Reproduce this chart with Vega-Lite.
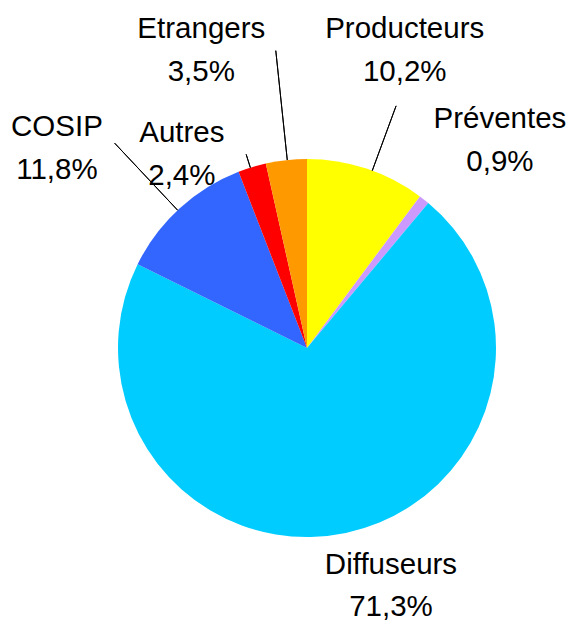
{
  "$schema": "https://vega.github.io/schema/vega-lite/v6.json",
  "width": 378,
  "height": 378,
  "autosize": {"type": "none"},
  "padding": {"left": 118, "top": 159, "right": 76, "bottom": 85},
  "background": "white",
  "config": {"view": {"stroke": null}},
  "data": {
    "values": [
      {"idx": 1, "label": "Producteurs", "value": 10.2, "txt": "Producteurs\n10,2%"},
      {"idx": 2, "label": "Préventes", "value": 0.9, "txt": "Préventes\n0,9%"},
      {"idx": 3, "label": "Diffuseurs", "value": 71.3, "txt": "Diffuseurs\n71,3%"},
      {"idx": 4, "label": "COSIP", "value": 11.8, "txt": "COSIP\n11,8%"},
      {"idx": 5, "label": "Autres", "value": 2.4, "txt": "Autres\n2,4%"},
      {"idx": 6, "label": "Etrangers", "value": 3.5, "txt": "Etrangers\n3,5%"}
    ]
  },
  "encoding": {
    "theta": {"field": "value", "type": "quantitative", "stack": "zero", "scale": {"domain": [0, 100.1]}},
    "order": {"field": "idx", "type": "quantitative"}
  },
  "layer": [
    {
      "mark": {"type": "arc", "radius": 189},
      "encoding": {
        "color": {
          "field": "label",
          "type": "nominal",
          "scale": {
            "domain": ["Producteurs", "Préventes", "Diffuseurs", "COSIP", "Autres", "Etrangers"],
            "range": ["#FFFF00", "#CC99FF", "#00CCFF", "#3366FF", "#FF0000", "#FF9900"]
          },
          "legend": null
        }
      }
    },
    {
      "transform": [
        {"stack": "value", "groupby": [], "sort": [{"field": "idx", "order": "ascending"}], "as": ["v0", "v1"]},
        {"filter": "datum.label === 'Producteurs'"}
      ],
      "mark": {"type": "arc", "radius": 258, "radius2": 189, "thetaOffset": 0.3526, "theta2Offset": 0.3526, "fillOpacity": 0, "stroke": "black", "strokeWidth": 1},
      "encoding": {
        "theta": {"field": "v0", "type": "quantitative", "stack": null, "scale": {"domain": [0, 100.1]}},
        "theta2": {"field": "v0"}
      }
    },
    {
      "transform": [
        {"stack": "value", "groupby": [], "sort": [{"field": "idx", "order": "ascending"}], "as": ["v0", "v1"]},
        {"filter": "datum.label === 'COSIP'"}
      ],
      "mark": {"type": "arc", "radius": 281, "radius2": 189, "thetaOffset": 0.3571, "theta2Offset": 0.3571, "fillOpacity": 0, "stroke": "black", "strokeWidth": 1},
      "encoding": {
        "theta": {"field": "v0", "type": "quantitative", "stack": null, "scale": {"domain": [0, 100.1]}},
        "theta2": {"field": "v0"}
      }
    },
    {
      "transform": [
        {"stack": "value", "groupby": [], "sort": [{"field": "idx", "order": "ascending"}], "as": ["v0", "v1"]},
        {"filter": "datum.label === 'Autres'"}
      ],
      "mark": {"type": "arc", "radius": 203, "radius2": 189, "thetaOffset": 0.066, "theta2Offset": 0.066, "fillOpacity": 0, "stroke": "black", "strokeWidth": 1},
      "encoding": {
        "theta": {"field": "v0", "type": "quantitative", "stack": null, "scale": {"domain": [0, 100.1]}},
        "theta2": {"field": "v0"}
      }
    },
    {
      "transform": [
        {"stack": "value", "groupby": [], "sort": [{"field": "idx", "order": "ascending"}], "as": ["v0", "v1"]},
        {"filter": "datum.label === 'Etrangers'"}
      ],
      "mark": {"type": "arc", "radius": 299, "radius2": 189, "thetaOffset": 0.1151, "theta2Offset": 0.1151, "fillOpacity": 0, "stroke": "black", "strokeWidth": 1},
      "encoding": {
        "theta": {"field": "v0", "type": "quantitative", "stack": null, "scale": {"domain": [0, 100.1]}},
        "theta2": {"field": "v0"}
      }
    },
    {
      "mark": {"type": "text", "radius": 313.7, "dx": -1, "dy": -21, "font": "Liberation Sans", "fontSize": 29.5, "lineHeight": 43, "lineBreak": "\n", "align": "center", "baseline": "middle", "color": "black"},
      "encoding": {
        "detail": {"field": "label", "type": "nominal"},
        "text": {"condition": {"test": "datum.label === 'Producteurs'", "field": "txt", "type": "nominal"}, "value": ""}
      }
    },
    {
      "mark": {"type": "text", "radius": 283.8, "dx": 17, "dy": -6, "font": "Liberation Sans", "fontSize": 29.5, "lineHeight": 43, "lineBreak": "\n", "align": "center", "baseline": "middle", "color": "black"},
      "encoding": {
        "detail": {"field": "label", "type": "nominal"},
        "text": {"condition": {"test": "datum.label === 'Préventes'", "field": "txt", "type": "nominal"}, "value": ""}
      }
    },
    {
      "mark": {"type": "text", "radius": 255.2, "dx": 31.5, "dy": -33, "font": "Liberation Sans", "fontSize": 29.5, "lineHeight": 42, "lineBreak": "\n", "align": "center", "baseline": "middle", "color": "black"},
      "encoding": {
        "detail": {"field": "label", "type": "nominal"},
        "text": {"condition": {"test": "datum.label === 'Diffuseurs'", "field": "txt", "type": "nominal"}, "value": ""}
      }
    },
    {
      "mark": {"type": "text", "radius": 320.2, "dx": -34, "dy": 15, "font": "Liberation Sans", "fontSize": 29.5, "lineHeight": 43, "lineBreak": "\n", "align": "center", "baseline": "middle", "color": "black"},
      "encoding": {
        "detail": {"field": "label", "type": "nominal"},
        "text": {"condition": {"test": "datum.label === 'COSIP'", "field": "txt", "type": "nominal"}, "value": ""}
      }
    },
    {
      "mark": {"type": "text", "radius": 230.8, "dx": -58, "dy": 6, "font": "Liberation Sans", "fontSize": 29.5, "lineHeight": 43, "lineBreak": "\n", "align": "center", "baseline": "middle", "color": "black"},
      "encoding": {
        "detail": {"field": "label", "type": "nominal"},
        "text": {"condition": {"test": "datum.label === 'Autres'", "field": "txt", "type": "nominal"}, "value": ""}
      }
    },
    {
      "mark": {"type": "text", "radius": 316.3, "dx": -71, "dy": -5, "font": "Liberation Sans", "fontSize": 29.5, "lineHeight": 43, "lineBreak": "\n", "align": "center", "baseline": "middle", "color": "black"},
      "encoding": {
        "detail": {"field": "label", "type": "nominal"},
        "text": {"condition": {"test": "datum.label === 'Etrangers'", "field": "txt", "type": "nominal"}, "value": ""}
      }
    }
  ]
}
